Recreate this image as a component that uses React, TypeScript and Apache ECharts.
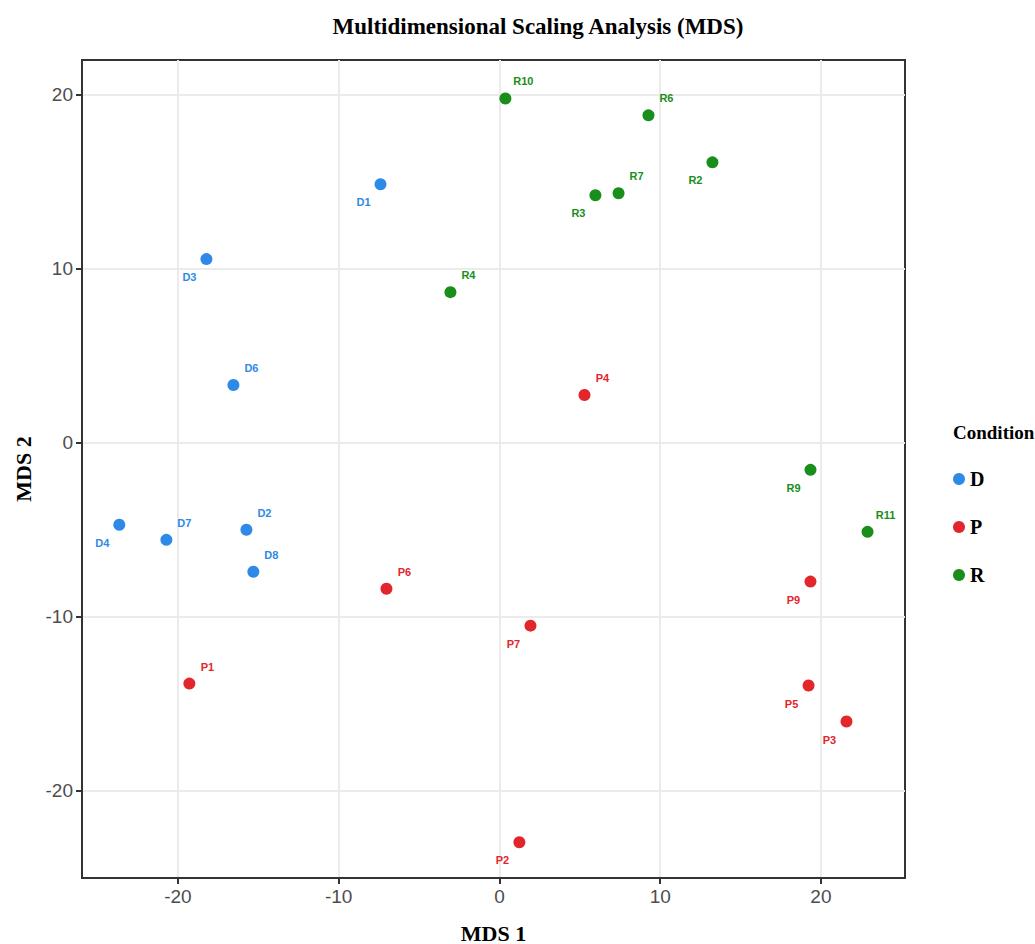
import React, { useEffect, useRef } from "react";
import * as echarts from "echarts";

const conditions = ["D", "P", "R"];
const colors = ["#2E8AE6", "#E3262C", "#1A8E1A"];

// name, MDS1, MDS2, label side ("tr" = top-right, "bl" = bottom-left)
const dNames = ["D1", "D2", "D3", "D4", "D6", "D7", "D8"];
const dX = [-7.4, -15.74, -18.23, -23.65, -16.55, -20.72, -15.31];
const dY = [14.86, -4.99, 10.56, -4.70, 3.33, -5.57, -7.40];
const dSide = ["bl", "tr", "bl", "bl", "tr", "tr", "tr"];

const pNames = ["P1", "P2", "P3", "P4", "P5", "P6", "P7", "P9"];
const pX = [-19.29, 1.24, 21.59, 5.29, 19.23, -7.03, 1.93, 19.35];
const pY = [-13.83, -22.95, -16.01, 2.75, -13.94, -8.38, -10.5, -7.97];
const pSide = ["tr", "bl", "bl", "tr", "bl", "tr", "bl", "bl"];

const rNames = ["R2", "R3", "R4", "R6", "R7", "R9", "R10", "R11"];
const rX = [13.25, 5.97, -3.05, 9.27, 7.41, 19.35, 0.37, 22.9];
const rY = [16.12, 14.23, 8.66, 18.82, 14.34, -1.55, 19.79, -5.11];
const rSide = ["bl", "bl", "tr", "tr", "tr", "bl", "tr", "tr"];

const tickValues = [-20, -10, 0, 10, 20];

const groups = [
  { names: dNames, xs: dX, ys: dY, sides: dSide },
  { names: pNames, xs: pX, ys: pY, sides: pSide },
  { names: rNames, xs: rX, ys: rY, sides: rSide },
];

export default function App() {
  const ref = useRef<HTMLDivElement>(null);
  useEffect(() => {
    if (!ref.current) return;
    const chart = echarts.init(ref.current, undefined, { renderer: "svg" });
    const serif = "'Liberation Serif', 'Times New Roman', serif";
    const sans = "'Liberation Sans', Arial, sans-serif";
    const axisCommon = {
      type: "value" as const,
      nameLocation: "middle" as const,
      nameTextStyle: { fontFamily: serif, fontWeight: "bold", fontSize: 22, color: "#000" },
      axisLine: { show: true, onZero: false, lineStyle: { color: "#333", width: 2 } },
      axisTick: {
        show: true,
        inside: false,
        length: 6,
        lineStyle: { color: "#333", width: 2 },
        customValues: tickValues,
      },
      axisLabel: {
        color: "#4D4D4D",
        fontFamily: sans,
        fontSize: 19,
        margin: 9,
        customValues: tickValues,
      },
      splitLine: { show: true, lineStyle: { color: "#EBEBEB", width: 2 } },
    };
    const series = groups.map((g, gi) => ({
      type: "scatter",
      name: conditions[gi],
      symbol: "circle",
      symbolSize: 12,
      itemStyle: { color: colors[gi], opacity: 1 },
      data: g.names.map((n, i) => ({
        name: n,
        value: [g.xs[i], g.ys[i]],
        label: {
          show: true,
          formatter: n,
          position: "inside",
          offset: g.sides[i] === "tr" ? [18, -17] : [-17, 18],
        },
      })),
      label: {
        show: true,
        color: colors[gi],
        fontFamily: sans,
        fontWeight: "bold",
        fontSize: 11,
        align: "center",
        verticalAlign: "middle",
      },
      emphasis: { disabled: true },
    }));
    chart.setOption({
      animation: false,
      backgroundColor: "#fff",
      title: [
        {
          text: "Multidimensional Scaling Analysis (MDS)",
          left: 533,
          top: 10,
          textAlign: "center",
          textStyle: { fontFamily: serif, fontWeight: "bold", fontSize: 23, color: "#000" },
        },
        {
          text: "Condition",
          left: 948,
          top: 418,
          textStyle: { fontFamily: serif, fontWeight: "bold", fontSize: 19, color: "#000" },
        },
      ],
      legend: {
        orient: "vertical",
        left: 948,
        top: 464,
        itemWidth: 12,
        itemHeight: 12,
        itemGap: 28,
        icon: "circle",
        data: conditions,
        textStyle: { fontFamily: serif, fontWeight: "bold", fontSize: 20, color: "#000" },
      },
      grid: {
        left: 82,
        right: 130,
        top: 60,
        bottom: 66,
        show: true,
        borderColor: "#333",
        borderWidth: 2,
        containLabel: false,
        outerBoundsMode: "none",
      },
      xAxis: { ...axisCommon, min: -25.97, max: 25.23, name: "MDS 1", nameGap: 44 },
      yAxis: { ...axisCommon, min: -25, max: 22, name: "MDS 2", nameGap: 45 },
      series,
    });
    return () => chart.dispose();
  }, []);
  return <div ref={ref} style={{ width: 1035, height: 944, position: "absolute", left: 0, top: 0 }} />;
}
